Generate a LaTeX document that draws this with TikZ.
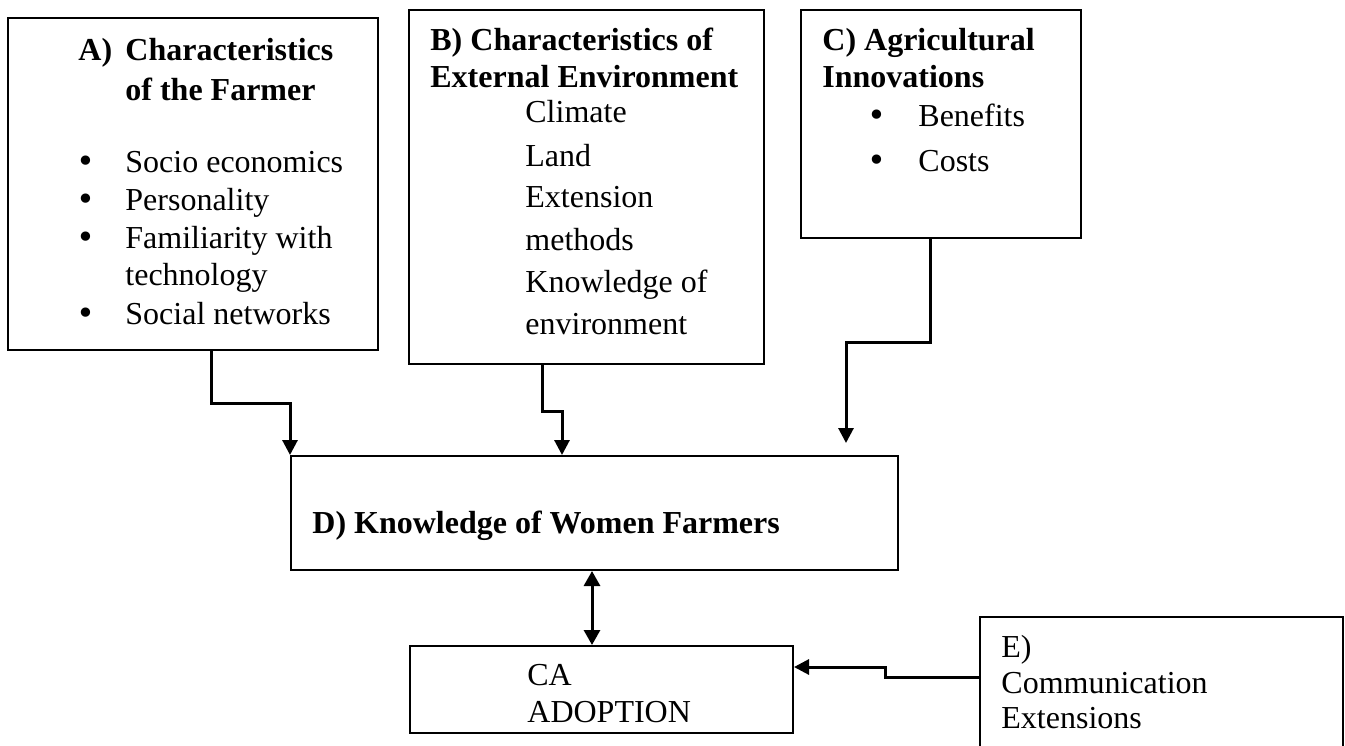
\documentclass[tikz,border=0pt]{standalone}
\usepackage{fontspec}
\setmainfont{Liberation Serif}
\newfontfamily\dotfont{DejaVu Sans}
\usetikzlibrary{arrows.meta,calc}

\begin{document}
\begin{tikzpicture}[x=0.5pt, y=-0.5pt,
  box/.style={draw, line width=1pt, inner sep=0pt},
  conn/.style={line width=1.5pt, -{Triangle[length=7.5pt,width=7.5pt]}},
  txt/.style={anchor=base west, inner sep=0pt, font=\fontsize{16}{19}\selectfont},
  hd/.style={anchor=base west, inner sep=0pt, font=\fontsize{16}{19}\selectfont\bfseries},
  dot/.style={anchor=base, inner sep=0pt, font=\dotfont\fontsize{16}{19}\selectfont}]
\useasboundingbox (0,0) rectangle (1345,745);
% Boxes
\node[box, minimum width=185pt, minimum height=166pt] (boxA) at (193,184) {};
\node[box, minimum width=177.5pt, minimum height=177pt] (boxB) at (586.5,187) {};
\node[box, minimum width=140pt, minimum height=114pt] (boxC) at (941,124) {};
\node[box, minimum width=303.5pt, minimum height=57pt] (boxD) at (594.5,513) {};
\node[box, minimum width=191.5pt, minimum height=43.5pt] (boxCA) at (601.5,689.5) {};
\node[box, minimum width=181.5pt, minimum height=91.5pt] (boxE) at (1161.5,708.5) {};
% A) farmer
\node[hd] (aLbl) at (78,60) {A)};
\node[hd] (aHd1) at (125,60) {Characteristics};
\node[hd] (aHd2) at (125,100) {of the Farmer};
\foreach \y/\t [count=\i] in {172/Socio economics, 210/Personality, 248/Familiarity with, 285/technology, 324/Social networks}
  \node[txt] (aItem\i) at (125,\y) {\t};
\foreach \y [count=\i] in {172,210,248,324}
  \node[dot] (aDot\i) at (86,\y) {•};
% B) environment
\node[hd] (bHd1) at (430,50) {B) Characteristics of};
\node[hd] (bHd2) at (430,87) {External Environment};
\foreach \y/\t [count=\i] in {122/Climate, 166/Land, 207/Extension, 250/methods, 292/Knowledge of, 334/environment}
  \node[txt] (bItem\i) at (525,\y) {\t};
% C) innovations
\node[hd] (cHd1) at (822,50) {C) Agricultural};
\node[hd] (cHd2) at (822,87) {Innovations};
\foreach \y/\t [count=\i] in {126/Benefits, 171/Costs} {
  \node[dot] (cDot\i) at (877,\y) {•};
  \node[txt] (cItem\i) at (918,\y) {\t};
}
% D), CA, E)
\node[hd] (dTxt) at (312,533) {D) Knowledge of Women Farmers};
\node[txt] (caTxt1) at (527,685) {CA};
\node[txt] (caTxt2) at (527,722) {ADOPTION};
\node[txt] (eTxt1) at (1001,657) {E)};
\node[txt] (eTxt2) at (1001,693) {Communication};
\node[txt] (eTxt3) at (1001,728) {Extensions};
% Connections
\coordinate (cEnd) at (846,443);
\draw[conn] ($(boxA.south)+(18,0)$) -- ++(0,52) -| (boxD.north west);
\draw[conn] ($(boxB.south)+(-44.5,0)$) -- ++(0,46) -| ($(boxD.north)+(-32.5,0)$);
\draw[conn] ($(boxC.south)+(-11,0)$) -- ++(0,103) -| (cEnd);
\draw[conn, {Triangle[length=7.5pt,width=8pt]}-{Triangle[length=7.5pt,width=8pt]}] ($(boxD.south)+(-2.5,0)$) -- ($(boxCA.north)+(-9.5,0)$);
\draw[conn] ($(boxE.west)+(0,-31.5)$) -| ++(-94,-10) -- ($(boxCA.east)+(0,-22.5)$);
\end{tikzpicture}
\end{document}
